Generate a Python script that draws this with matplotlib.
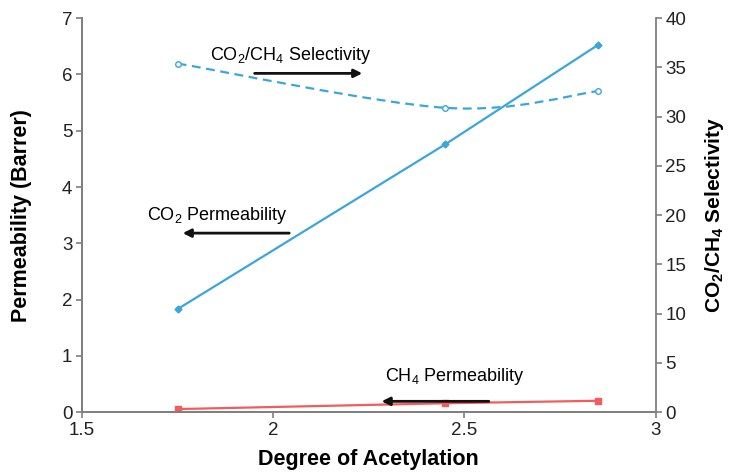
import matplotlib
matplotlib.use('Agg')
import matplotlib.pyplot as plt
from matplotlib.path import Path
from matplotlib.patches import PathPatch
import numpy as np

plt.rcParams['font.family'] = ['Liberation Sans', 'DejaVu Sans']
plt.rcParams['mathtext.fontset'] = 'custom'
plt.rcParams['mathtext.rm'] = 'Liberation Sans'
plt.rcParams['mathtext.bf'] = 'Liberation Sans:bold'

# degree of acetylation for the three cellulose acetates
acetylation = [1.75, 2.45, 2.85]
co2_perm = [1.83, 4.76, 6.53]
ch4_perm = [0.052, 0.156, 0.2]
selectivity = [35.4, 30.9, 32.6]

x_ticks = [1.5, 2, 2.5, 3]
left_ticks = [0, 1, 2, 3, 4, 5, 6, 7]
right_ticks = [0, 5, 10, 15, 20, 25, 30, 35, 40]

blue = '#3ba6dc'
red = '#f45b5b'
grey = '#7f7f7f'


def smooth_path(xs, ys, k=1 / 6):
    # Excel-style smoothed line: cubic beziers through the points
    pts = np.column_stack([xs, ys])
    verts = [pts[0]]
    codes = [Path.MOVETO]
    n = len(pts)
    for i in range(n - 1):
        p0 = pts[max(i - 1, 0)]
        p1, p2 = pts[i], pts[i + 1]
        p3 = pts[min(i + 2, n - 1)]
        c1 = p1 + (p2 - p0) * k
        c2 = p2 - (p3 - p1) * k
        verts += [c1, c2, p2]
        codes += [Path.CURVE4] * 3
    return Path(verts, codes)


fig = plt.figure(figsize=(7.29, 4.75), dpi=100)
ax = fig.add_axes([0.1125, 0.1326, 0.787, 0.829])
ax2 = ax.twinx()

ax.plot(acetylation, co2_perm, color=blue, lw=1.6, marker='D', ms=3.5, zorder=3)
ax.plot(acetylation, ch4_perm, color=red, lw=1.6, marker='s', ms=5, zorder=3)

ax2.add_patch(PathPatch(smooth_path(acetylation, selectivity), fill=False,
                        edgecolor=blue, lw=1.6, ls=(0, (4, 2.5))))
ax2.plot(acetylation, selectivity, ls='none', marker='o', ms=4,
         mfc='white', mec=blue, mew=1)

ax.set_xlim(1.5, 3)
ax.set_ylim(0, 7)
ax2.set_ylim(0, 40)
ax.set_xticks(x_ticks)
ax.set_xticklabels(['1.5', '2', '2.5', '3'])
ax.set_yticks(left_ticks)
ax2.set_yticks(right_ticks)

for a in (ax, ax2):
    a.spines['top'].set_visible(False)
    for s in ('left', 'right', 'bottom'):
        a.spines[s].set_color(grey)
        a.spines[s].set_linewidth(1.3)
    a.tick_params(colors=grey, labelcolor='#222222', labelsize=13.5,
                  length=4, width=1.2, direction='out', pad=3)
ax.spines['right'].set_visible(False)

ax.set_xlabel('Degree of Acetylation', fontsize=15.5, fontweight='bold', va='center')
ax.set_ylabel('Permeability (Barrer)', fontsize=15.5, fontweight='bold', va='center')
ax2.set_ylabel('CO$_\\mathbf{2}$/CH$_\\mathbf{4}$ Selectivity', fontsize=15,
               fontweight='bold', va='center')
ax.xaxis.set_label_coords(0.5, -0.12)
ax.yaxis.set_label_coords(-0.105, 0.5)
ax2.yaxis.set_label_coords(1.102, 0.5)

arrow = dict(arrowstyle='-|>', color='#111111', lw=2, mutation_scale=12)
ax.text(2.046, 6.34, 'CO$_2$/CH$_4$ Selectivity', ha='center', va='center', fontsize=13)
ax.annotate('', xy=(2.24, 6.02), xytext=(1.944, 6.02), arrowprops=arrow)
ax.text(1.853, 3.50, 'CO$_2$ Permeability', ha='center', va='center', fontsize=13)
ax.annotate('', xy=(1.756, 3.18), xytext=(2.049, 3.18), arrowprops=arrow)
ax.text(2.475, 0.64, 'CH$_4$ Permeability', ha='center', va='center', fontsize=13)
ax.annotate('', xy=(2.276, 0.19), xytext=(2.571, 0.19), arrowprops=arrow)

fig.savefig('out.png', dpi=100)
